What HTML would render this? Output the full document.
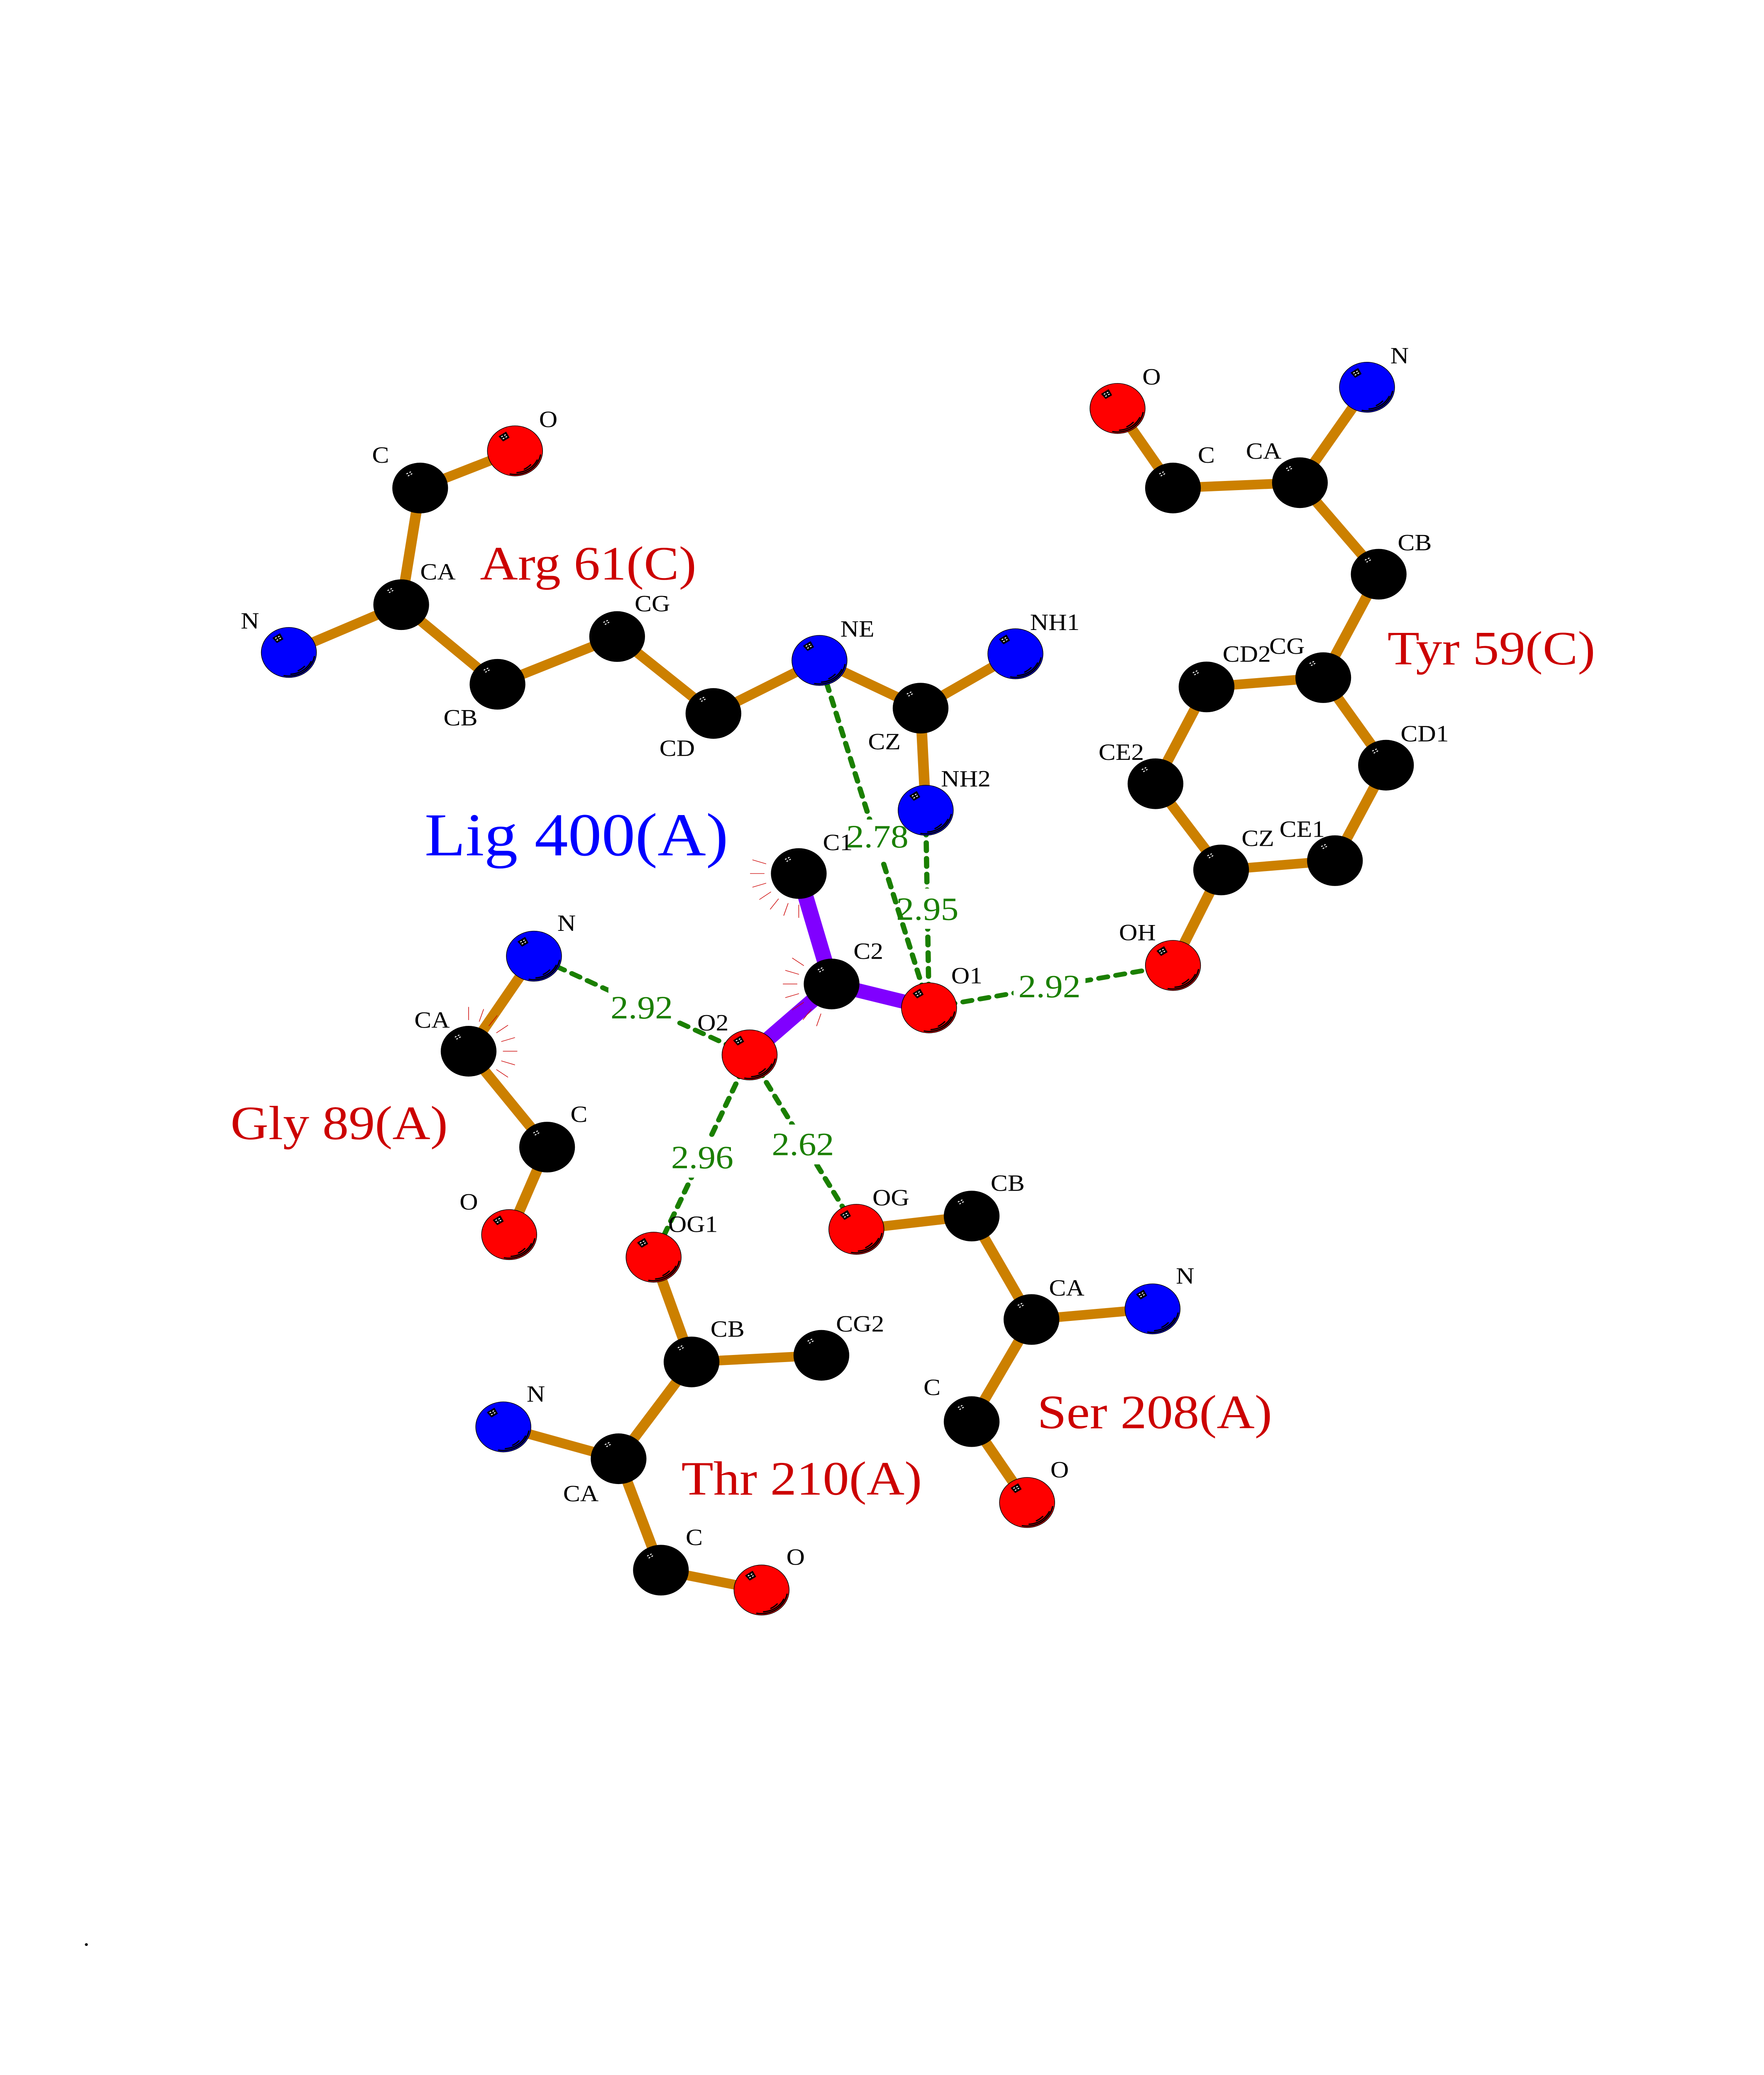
<!DOCTYPE html>
<html><head><meta charset="utf-8"><title>Ligand interaction diagram</title>
<style>
html,body{margin:0;padding:0;background:#fff;width:100%;height:100%;overflow:hidden}
svg{display:block;width:100vw;height:100vh}
text{font-family:"Liberation Serif",serif}
.o{stroke:#cc8000;stroke-width:7.3;fill:none}
.p{stroke:#8000ff;stroke-width:10.8;fill:none}
.g{stroke:#1a7f00;stroke-width:3.6;stroke-linecap:round;stroke-dasharray:6.1 5.75;fill:none}
.d{font-size:24.4px;fill:#1a7f00}
.l{font-size:17.5px;fill:#000}
.r{font-size:36px;fill:#cc0000}
.t{stroke:#cc0000;stroke-width:.42}
</style></head><body>
<svg xmlns="http://www.w3.org/2000/svg" viewBox="0 0 1209.1 1564.7" preserveAspectRatio="none">
<defs>
<g id="dots" fill="#fff"><rect x="-9.5" y="-11.2" width="1.2" height=".7" transform="rotate(-30 -9 -10.9)"/><rect x="-7.5" y="-12.3" width="1.2" height=".7" transform="rotate(-30 -6.9 -12)"/><rect x="-6.6" y="-10.9" width="1.2" height=".7" transform="rotate(-30 -6 -10.6)"/><rect x="-8.5" y="-9.7" width="1.2" height=".7" transform="rotate(-30 -7.9 -9.4)"/></g>
<g id="det"><path d="M-10.9-10.9L-6.2-14.1-4.1-10.1-8.1-7.5Z" fill="#000" stroke="#000" stroke-width=".6" stroke-linejoin="round"/><use href="#dots"/><g fill="none" stroke="#000" stroke-width=".95" stroke-linecap="round"><path d="M17.5 3.1A17.8 17.8 0 0 1-3.3 17.5"/><path d="M15.2 6.9A16.6 16.6 0 0 1 1.4 16.4"/><path d="M10.7 10.5A15.2 15.2 0 0 1 6.4 13.8"/></g></g>
<g id="b"><circle r="19.1" fill="#000"/><use href="#dots"/></g>
<g id="e"><circle r="18.9" fill="#f00" stroke="#000" stroke-width=".45"/><use href="#det"/></g>
<g id="n"><circle r="18.9" fill="#00f" stroke="#000" stroke-width=".45"/><use href="#det"/></g>
<line id="k" class="t" x1="-23.5" y1="0" x2="-33.4" y2="0"/>
</defs>
<rect width="1209.1" height="1564.7" fill="#fff"/>

<!-- H-bonds -->
<line class="g" x1="636.8" y1="760" x2="634.5" y2="611"/>
<rect x="612" y="670" width="48" height="30.4" fill="#fff"/>
<text class="d" x="614.3" y="693.6">2.95</text>
<line class="g" x1="636.8" y1="760" x2="561.7" y2="498"/>
<rect x="579" y="618" width="46" height="30" fill="#fff"/>
<line class="g" x1="636.8" y1="760" x2="804" y2="728"/>
<rect x="694.7" y="730" width="49.3" height="30" fill="#fff"/>
<line class="g" x1="513.8" y1="795.5" x2="366" y2="721"/>
<rect x="417" y="745" width="46" height="30" fill="#fff"/>
<line class="g" x1="513.8" y1="795.5" x2="448" y2="948"/>
<rect x="459" y="858" width="46" height="30" fill="#fff"/>
<line class="g" x1="513.8" y1="795.5" x2="587" y2="927"/>
<rect x="528" y="848" width="46" height="30" fill="#fff"/>

<!-- bonds -->
<g class="o">
<polyline points="353,340 288,368 275,456 198,492"/>
<polyline points="275,456 341,516 423,480 489,538 561.7,498 631,534 696,493"/>
<line x1="631" y1="534" x2="634.5" y2="611"/>
<polyline points="766,308 804,368 891,364 937,292"/>
<polyline points="891,364 945,433 907,511 827,518 792,591 837,656 915,649 950,577 907,511"/>
<line x1="837" y1="656" x2="804" y2="728"/>
<polyline points="366,721 321.2,792.7 375,865 349,931"/>
<polyline points="448,948 474,1027 563,1022"/>
<polyline points="474,1027 424,1100 345,1076"/>
<polyline points="424,1100 453,1184 522,1199"/>
<polyline points="587,927 666,917 707,995 790,987"/>
<polyline points="707,995 666,1072 704,1133"/>
</g>
<g class="p">
<line x1="547.5" y1="658.7" x2="570" y2="742"/>
<line x1="570" y1="742" x2="636.8" y2="760"/>
<line x1="570" y1="742" x2="513.8" y2="795.5"/>
</g>

<!-- atoms -->
<use href="#b" x="288" y="368"/><use href="#e" x="353" y="340"/><use href="#b" x="275" y="456"/><use href="#n" x="198" y="492"/>
<use href="#b" x="341" y="516"/><use href="#b" x="423" y="480"/><use href="#b" x="489" y="538"/><use href="#n" x="561.7" y="498"/>
<use href="#b" x="631" y="534"/><use href="#n" x="696" y="493"/><use href="#n" x="634.5" y="611"/>
<use href="#e" x="766" y="308"/><use href="#b" x="804" y="368"/><use href="#b" x="891" y="364"/><use href="#n" x="937" y="292"/>
<use href="#b" x="945" y="433"/><use href="#b" x="907" y="511"/><use href="#b" x="827" y="518"/><use href="#b" x="950" y="577"/>
<use href="#b" x="792" y="591"/><use href="#b" x="915" y="649"/><use href="#b" x="837" y="656"/><use href="#e" x="804" y="728"/>
<use href="#b" x="547.5" y="658.7"/><use href="#b" x="570" y="742"/><use href="#e" x="636.8" y="760"/><use href="#e" x="513.8" y="795.5"/>
<use href="#n" x="366" y="721"/><use href="#b" x="321.2" y="792.7"/><use href="#b" x="375" y="865"/><use href="#e" x="349" y="931"/>
<use href="#e" x="448" y="948"/><use href="#b" x="474" y="1027"/><use href="#b" x="563" y="1022"/><use href="#b" x="424" y="1100"/>
<use href="#n" x="345" y="1076"/><use href="#b" x="453" y="1184"/><use href="#e" x="522" y="1199"/>
<use href="#e" x="587" y="927"/><use href="#b" x="666" y="917"/><use href="#b" x="707" y="995"/><use href="#n" x="790" y="987"/>
<use href="#b" x="666" y="1072"/><use href="#e" x="704" y="1133"/>

<!-- hydrophobic ticks -->
<g transform="translate(547.5 658.7)"><use href="#k" transform="rotate(18)"/><use href="#k"/><use href="#k" transform="rotate(-18)"/><use href="#k" transform="rotate(-36)"/><use href="#k" transform="rotate(-54)"/><use href="#k" transform="rotate(-72)"/><use href="#k" transform="rotate(-90)"/></g>
<g transform="translate(570 742)"><use href="#k" transform="rotate(36)"/><use href="#k" transform="rotate(18)"/><use href="#k"/><use href="#k" transform="rotate(-18)"/><use href="#k" transform="rotate(-36)"/><use href="#k" transform="rotate(-54)"/><use href="#k" transform="rotate(-72)"/></g>
<g transform="translate(321.2 792.7)"><use href="#k" transform="rotate(90)"/><use href="#k" transform="rotate(108)"/><use href="#k" transform="rotate(126)"/><use href="#k" transform="rotate(144)"/><use href="#k" transform="rotate(162)"/><use href="#k" transform="rotate(180)"/><use href="#k" transform="rotate(198)"/><use href="#k" transform="rotate(216)"/></g>

<!-- atom labels -->
<g class="l">
<text x="369.5" y="322">O</text><text x="255" y="349">C</text><text x="288" y="437">CA</text><text x="165" y="474">N</text>
<text x="304" y="547">CB</text><text x="435" y="461">CG</text><text x="452" y="570">CD</text><text x="576" y="480">NE</text>
<text x="595" y="565">CZ</text><text x="706" y="475">NH1</text><text x="645" y="593">NH2</text>
<text x="783" y="290">O</text><text x="821" y="349">C</text><text x="854" y="346">CA</text><text x="953" y="274">N</text>
<text x="958" y="415">CB</text><text x="870" y="493">CG</text><text x="838" y="499">CD2</text><text x="960" y="559">CD1</text>
<text x="753" y="573">CE2</text><text x="877" y="631">CE1</text><text x="851" y="638">CZ</text><text x="767" y="709">OH</text>
<text x="564" y="641">C1</text><text x="585" y="723">C2</text><text x="652" y="741.5">O1</text><text x="478" y="777">O2</text>
<text x="382" y="702">N</text><text x="284" y="775">CA</text><text x="391" y="846">C</text><text x="315" y="912">O</text>
<text x="458" y="929">OG1</text><text x="487" y="1008">CB</text><text x="573" y="1004">CG2</text><text x="361" y="1057">N</text>
<text x="386" y="1132">CA</text><text x="470" y="1165">C</text><text x="539" y="1180">O</text>
<text x="598" y="909">OG</text><text x="679" y="898">CB</text><text x="719" y="977">CA</text><text x="806" y="968">N</text>
<text x="633" y="1052">C</text><text x="720" y="1114">O</text>
<text x="57" y="1467">.</text>
</g>

<!-- distances -->
<text class="d" x="580" y="639">2.78</text>
<text class="d" x="698" y="752">2.92</text>
<text class="d" x="418.5" y="768">2.92</text>
<text class="d" x="460" y="881">2.96</text>
<text class="d" x="529" y="871">2.62</text>

<!-- residue names -->
<text class="r" x="329" y="437">Arg 61(C)</text>
<text class="r" x="951" y="501">Tyr 59(C)</text>
<text class="r" x="158" y="859">Gly 89(A)</text>
<text class="r" x="711" y="1077">Ser 208(A)</text>
<text class="r" x="467" y="1127">Thr 210(A)</text>
<text x="291" y="645" font-size="46" fill="#0000ff">Lig 400(A)</text>
</svg>
</body></html>
